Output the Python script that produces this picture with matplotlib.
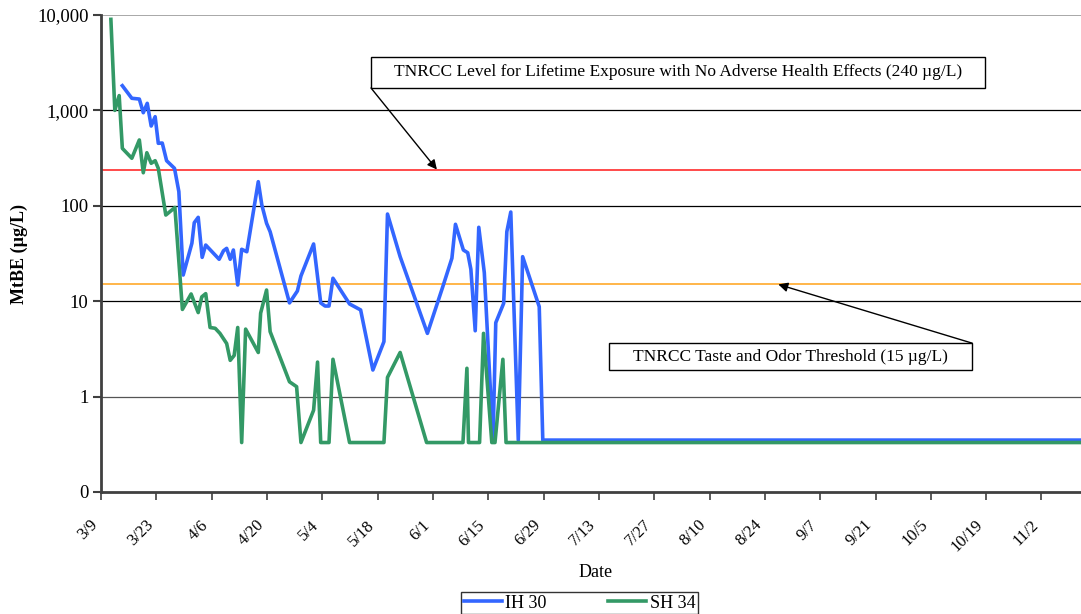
import matplotlib
matplotlib.use("Agg")
import matplotlib.pyplot as plt
from matplotlib.patches import Rectangle
from matplotlib.transforms import ScaledTranslation

plt.rcParams['font.family'] = ['Liberation Serif', 'DejaVu Serif']

# Sampling days (counted from 3/9) and MtBE concentrations in ug/L
ih30_day = [5.4, 7.8, 9.7, 10.7, 11.7, 12.7, 13.7, 14.5, 15.5, 16.6, 18.6, 19.7, 20.8,
            23.0, 23.6, 24.6, 25.6, 26.5, 29.9, 31.0, 31.8, 32.7, 33.5, 34.6, 35.6, 36.9,
            39.8, 40.7, 41.9, 42.8, 47.7, 49.7, 50.6, 53.8, 55.6, 56.7, 57.7, 58.7, 62.9,
            65.7, 68.8, 71.6, 72.5, 75.7, 82.6, 86.5, 88.8, 89.7, 91.7, 92.8, 93.6, 94.7,
            95.6, 97.0, 99.2, 99.9, 101.9, 102.7, 103.7, 105.6, 106.7, 110.9, 111.8, 248.0]
ih30_val = [1815, 1340, 1315, 946, 1186, 686, 859, 452, 455, 297, 247, 141, 18.8,
            40.5, 66.5, 75.7, 28.8, 38.8, 27.5, 33.8, 35.8, 27.5, 34.4, 14.8, 35, 33,
            179, 102, 65.6, 53.5, 9.6, 12.8, 18.4, 39.8, 9.6, 8.9, 8.9, 17.4, 9.35,
            8.1, 1.9, 3.77, 82, 29.3, 4.6, 14.2, 28.2, 64, 34.4, 32.2, 21.6, 4.9,
            59.5, 19.9, 0.35, 5.95, 9.5, 53.5, 86, 0.35, 29.3, 8.76, 0.35, 0.35]

sh34_day = [2.5, 3.5, 4.6, 5.4, 7.8, 9.7, 10.7, 11.6, 12.7, 13.7, 14.5, 16.4, 18.7,
            20.6, 22.8, 24.6, 25.5, 26.5, 27.6, 28.9, 30.1, 31.8, 32.7, 33.7, 34.6, 35.6,
            36.6, 39.8, 40.4, 41.9, 42.8, 47.7, 49.5, 50.6, 53.8, 54.8, 55.6, 57.7, 58.7,
            62.9, 71.6, 72.5, 75.7, 82.4, 91.6, 92.6, 93.0, 95.8, 96.8, 98.9, 99.7, 101.7,
            102.5, 248.0]
sh34_val = [9000, 1000, 1430, 400, 315, 490, 222, 360, 279, 297, 247, 80, 96,
            8.2, 11.9, 7.6, 11.1, 12.0, 5.3, 5.2, 4.6, 3.6, 2.4, 2.7, 5.3, 0.33,
            5.1, 2.9, 7.5, 13.1, 4.8, 1.43, 1.27, 0.33, 0.72, 2.3, 0.33, 0.33, 2.46,
            0.33, 0.33, 1.59, 2.9, 0.33, 0.33, 1.98, 0.33, 0.33, 4.6, 0.33, 0.33, 2.46,
            0.33, 0.33]

lifetime_level = 240
taste_odor_level = 15

date_labels = ['3/9', '3/23', '4/6', '4/20', '5/4', '5/18', '6/1', '6/15', '6/29', '7/13',
               '7/27', '8/10', '8/24', '9/7', '9/21', '10/5', '10/19', '11/2']
y_ticks = [0.1, 1, 10, 100, 1000, 10000]
y_labels = ['0', '1', '10', '100', '1,000', '10,000']

fig = plt.figure(figsize=(10.81, 6.14), dpi=100)
ax = fig.add_axes([101 / 1081, 1 - 492 / 614, 980 / 1081, 477 / 614])

ax.set_yscale('log')
ax.set_ylim(0.1, 10000)
ax.set_xlim(0, 248)

for y in [10, 100, 1000]:
    ax.axhline(y, color='black', lw=0.9, zorder=1)
ax.axhline(1, color='#555555', lw=0.9, zorder=1)
ax.axhline(10000, color='#999999', lw=1.2, zorder=1)

ax.axhline(lifetime_level, color='#ff3b3b', lw=1.3, zorder=2)
ax.axhline(taste_odor_level, color='#ffb03b', lw=1.3, zorder=2)

ax.plot(ih30_day, ih30_val, color='#3366ff', lw=2.6, label='IH 30', zorder=4)
ax.plot(sh34_day, sh34_val, color='#339966', lw=2.6, label='SH 34', zorder=5)

ax.set_yticks(y_ticks)
ax.set_yticklabels(y_labels, fontsize=13.5)
ax.yaxis.set_minor_locator(matplotlib.ticker.NullLocator())
ax.set_xticks([14 * i for i in range(len(date_labels))])
ax.set_xticklabels(date_labels, fontsize=12, rotation=45, ha='right')
offset = ScaledTranslation(-6 / 100, 0, fig.dpi_scale_trans)
for lab in ax.get_xticklabels():
    lab.set_transform(lab.get_transform() + offset)

ax.tick_params(axis='y', direction='out', length=6, width=1.5, color='#404040', pad=3)
ax.tick_params(axis='x', direction='out', length=6, width=1.2, color='#404040', pad=12)

for s in ['top', 'right']:
    ax.spines[s].set_visible(False)
ax.spines['left'].set_color('#404040')
ax.spines['left'].set_linewidth(2)
ax.spines['bottom'].set_color('#404040')
ax.spines['bottom'].set_linewidth(2)

ax.set_xlabel('Date', fontsize=13)
ax.xaxis.set_label_coords(0.505, -0.15)
ax.set_ylabel('MtBE (\u00b5g/L)', fontsize=13, fontweight='bold')
ax.yaxis.set_label_coords(-0.074, 0.5)

# annotation boxes with arrows
box1 = (0.2755, 0.847, 0.6265, 0.065)
ax.add_patch(Rectangle(box1[:2], box1[2], box1[3], transform=ax.transAxes,
                       facecolor='white', edgecolor='black', lw=1, zorder=6))
ax.text(box1[0] + box1[2] / 2, box1[1] + box1[3] / 2,
        'TNRCC Level for Lifetime Exposure with No Adverse Health Effects (240 \u00b5g/L)',
        transform=ax.transAxes, ha='center', va='center', fontsize=12.5, zorder=7)
ax.annotate('', xy=(85, lifetime_level), xycoords='data',
            xytext=(box1[0], box1[1]), textcoords='axes fraction',
            arrowprops=dict(arrowstyle='-|>', color='black', lw=1, mutation_scale=14,
                            shrinkA=0, shrinkB=0), zorder=7)

box2 = (0.518, 0.256, 0.371, 0.056)
ax.add_patch(Rectangle(box2[:2], box2[2], box2[3], transform=ax.transAxes,
                       facecolor='white', edgecolor='black', lw=1, zorder=6))
ax.text(box2[0] + box2[2] / 2, box2[1] + box2[3] / 2,
        'TNRCC Taste and Odor Threshold (15 \u00b5g/L)',
        transform=ax.transAxes, ha='center', va='center', fontsize=12.5, zorder=7)
ax.annotate('', xy=(171.4, taste_odor_level), xycoords='data',
            xytext=(box2[0] + box2[2], box2[1] + box2[3]), textcoords='axes fraction',
            arrowprops=dict(arrowstyle='-|>', color='black', lw=1, mutation_scale=14,
                            shrinkA=0, shrinkB=0), zorder=7)

leg = fig.legend(loc='upper center', bbox_to_anchor=(0.536, 0.036), ncol=2,
                 fontsize=13, frameon=True, fancybox=False, edgecolor='black',
                 borderpad=0.15, handlelength=2.1, handletextpad=0.2,
                 columnspacing=3.4, borderaxespad=0)
leg.get_frame().set_linewidth(1)

fig.savefig('out.png', dpi=100)
